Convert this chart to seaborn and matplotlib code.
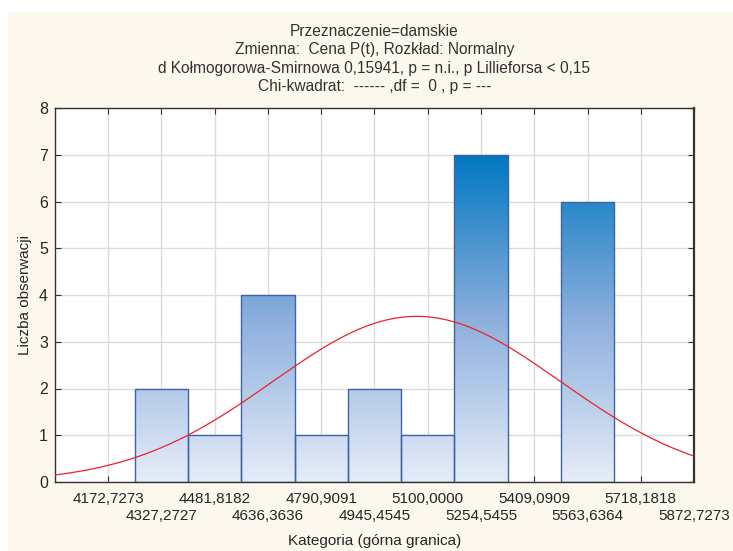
import numpy as np
import pandas as pd
import matplotlib
matplotlib.use("Agg")
import matplotlib.pyplot as plt
import seaborn as sns
from matplotlib.colors import LinearSegmentedColormap

# =========================
# DATA
# =========================

bin_labels = ["4172,7273", "4327,2727", "4481,8182", "4636,3636", "4790,9091", "4945,4545",
              "5100,0000", "5254,5455", "5409,0909", "5563,6364", "5718,1818", "5872,7273"]
bin_values = [4172.7273, 4327.2727, 4481.8182, 4636.3636, 4790.9091, 4945.4545,
              5100.0, 5254.5455, 5409.0909, 5563.6364, 5718.1818, 5872.7273]
counts = [0, 2, 1, 4, 1, 2, 1, 7, 0, 6, 0, 0]

bin_width = bin_values[1] - bin_values[0]

df = pd.DataFrame({"cat": bin_values, "n": counts})
bars = df[df["n"] > 0]

# normal fit from the binned data
n_tot = df["n"].sum()
mean = (df["cat"] * df["n"]).sum() / n_tot
sd = np.sqrt(((df["cat"] - mean) ** 2 * df["n"]).sum() / (n_tot - 1))

# =========================
# STYLE
# =========================

sns.set_style("whitegrid")
plt.rcParams['font.family'] = ['Liberation Sans Narrow', 'Liberation Sans', 'DejaVu Sans']
plt.rcParams['text.color'] = '#333333'

fig = plt.figure(figsize=(7.33, 5.51), dpi=100)
fig.patch.set_facecolor('white')
bg = plt.Rectangle((8 / 733, 0), 1, 1 - 12 / 551, transform=fig.transFigure,
                   facecolor='#FDF8EE', edgecolor='none', zorder=-10)
fig.patches.append(bg)

ax = fig.add_axes([55 / 733, 69 / 551, 639 / 733, 374 / 551])
ax.set_facecolor('white')

# =========================
# BARS (gradient fill)
# =========================

sns.barplot(data=bars, x="cat", y="n", native_scale=True, width=1.0,
            color='#8DB0DE', edgecolor='#3F63A6', linewidth=1.0, ax=ax, zorder=3)

xlo = bin_values[0] - bin_width
xhi = bin_values[-1]

grad = LinearSegmentedColormap.from_list("g", ["#E6EDF8", "#8CAFDD", "#0077C0"])
img = np.linspace(0, 1, 256).reshape(-1, 1)
for p in ax.patches:
    p.set_facecolor('none')
    im = ax.imshow(img, cmap=grad, origin='lower', aspect='auto',
                   extent=[xlo, xhi, 0, 7], zorder=2.5)
    im.set_clip_path(p)

# =========================
# NORMAL CURVE
# =========================

xs = np.linspace(xlo, xhi, 400)
ys = n_tot * bin_width / (sd * np.sqrt(2 * np.pi)) * np.exp(-0.5 * ((xs - mean) / sd) ** 2)
sns.lineplot(x=xs, y=ys, color='#E8242C', linewidth=0.9, ax=ax, zorder=4)

# =========================
# AXES
# =========================

ax.set_xlim(xlo, xhi)
ax.set_ylim(0, 8)

# two rows of labels: even on major ticks, odd on minor ticks
ax.set_xticks(bin_values[0::2])
ax.set_xticklabels(bin_labels[0::2], fontsize=11)
ax.set_xticks(bin_values[1::2], minor=True)
ax.set_xticklabels(bin_labels[1::2], minor=True, fontsize=11)
ax.tick_params(axis='x', which='major', pad=7)
ax.tick_params(axis='x', which='minor', pad=19.5)

ax.set_yticks(range(0, 9))
ax.tick_params(axis='y', labelsize=11.5, pad=5)
ax.tick_params(which='both', direction='in', length=4, width=0.8, color='#333333',
               top=True, right=True, bottom=True, left=True)
ax.grid(True, which='both', color='#DCDCDC', linewidth=1.0, zorder=0)
ax.set_axisbelow(True)
for side, sp in ax.spines.items():
    sp.set_color('#333333')
    sp.set_linewidth(1.0)
    sp.set_visible(True)
ax.spines['right'].set_linewidth(1.6)

ax.set_xlabel("Kategoria (górna granica)", fontsize=11, labelpad=8)
ax.set_ylabel("Liczba obserwacji", fontsize=11, labelpad=5)
ax.set_title("Przeznaczenie=damskie\nZmienna:  Cena P(t), Rozkład: Normalny\n"
             "d Kołmogorowa-Smirnowa 0,15941, p = n.i., p Lillieforsa < 0,15\n"
             "Chi-kwadrat:  ------ ,df =  0 , p = ---",
             fontsize=11.2, linespacing=1.3, pad=12)

fig.savefig("out.png", dpi=100, facecolor=fig.get_facecolor())
